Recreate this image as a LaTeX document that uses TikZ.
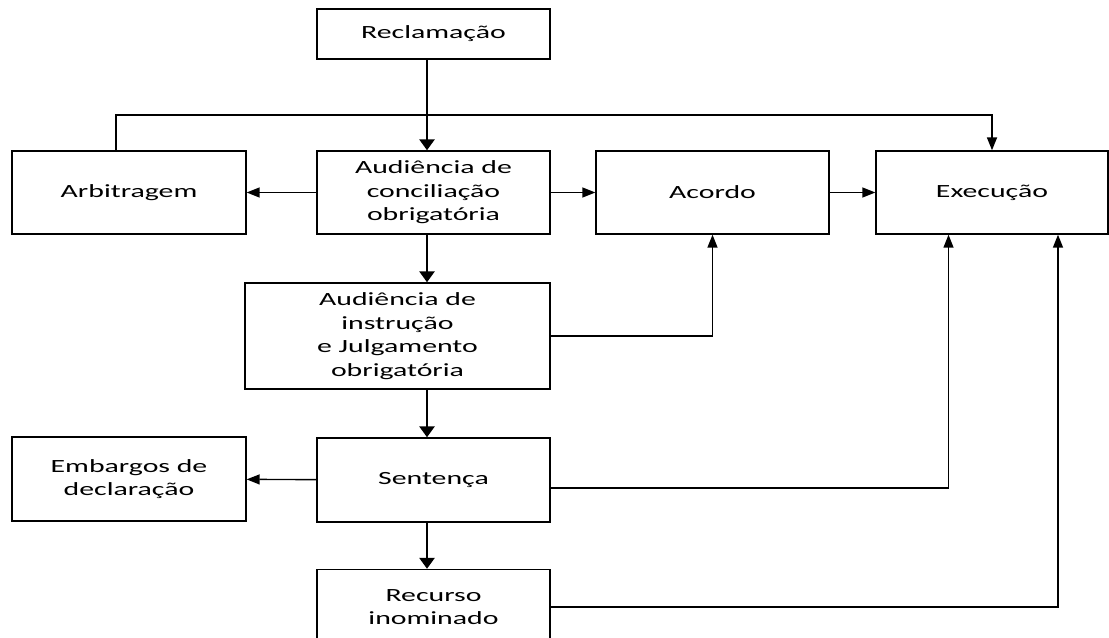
\documentclass[tikz,border=0pt]{standalone}
\usepackage{fontspec}
\setmainfont[FakeStretch=1.6]{Carlito}
\usetikzlibrary{arrows.meta,positioning}

\begin{document}
\begin{tikzpicture}[x=0.02cm,y=-0.02cm]
    \tikzset{
      box/.style={draw,line width=0.8pt,align=center,inner sep=0pt,
        font=\fontsize{10.6}{13.4}\selectfont},
      thin/.style={-{Triangle[length=0.26cm,width=0.2cm]},line width=0.8pt},
      heavy/.style={-{Triangle[length=0.22cm,width=0.3cm]},line width=1.7pt}
    }
    \useasboundingbox (0,0) rectangle (1109,638);
    % boxes
    \node[box,minimum width=4.66cm,minimum height=1.0cm] (recl) at (433.5,34) {Reclama\c{c}\~ao};
    \node[box,minimum width=4.68cm,minimum height=1.66cm] (arb) at (129,192.5) {Arbitragem};
    \node[box,minimum width=4.66cm,minimum height=1.66cm] (conc) at (433.5,192.5) {Audi\^encia de\\concilia\c{c}\~ao\\obrigat\'oria};
    \node[box,minimum width=4.66cm,minimum height=1.66cm] (acordo) at (712.5,192.5) {Acordo};
    \node[box,minimum width=4.64cm,minimum height=1.66cm] (exec) at (992,192.5) {Execu\c{c}\~ao};
    \node[box,minimum width=6.1cm,minimum height=2.12cm] (instr) at (397.5,336) {Audi\^encia de\\instru\c{c}\~ao\\e Julgamento\\obrigat\'oria};
    \node[box,minimum width=4.68cm,minimum height=1.68cm] (emb) at (129,479) {Embargos de\\declara\c{c}\~ao};
    \node[box,minimum width=4.66cm,minimum height=1.68cm] (sent) at (433.5,480) {Senten\c{c}a};
    \node[box,minimum width=4.66cm,minimum height=1.5cm] (rec) at (433.5,607) {Recurso\\inominado};
    % main chain
    \draw[heavy] ([xshift=-0.13cm]recl.south) -- ([xshift=-0.13cm]conc.north);
    \draw[heavy] ([xshift=-0.13cm]conc.south) -- ([xshift=-0.13cm]conc.south |- instr.north);
    \draw[heavy] ([xshift=-0.13cm]sent.north |- instr.south) -- ([xshift=-0.13cm]sent.north);
    \draw[heavy] ([xshift=-0.13cm]sent.south) -- ([xshift=-0.13cm]rec.north);
    % side branches
    \draw[thin] (conc) -- (arb);
    \draw[thin] (conc) -- (acordo);
    \draw[thin] (acordo) -- (exec);
    \draw[thin] (sent) -- (emb);
    \draw[thin,line width=1pt] ([xshift=-0.26cm]arb.north) -- ++(0,-35) -| (exec.north);
    \draw[thin] (instr.east) -| (acordo.south);
    \draw[thin] ([yshift=-0.16cm]sent.east) -| ([xshift=-0.87cm]exec.south);
    \draw[thin] (rec.east) -| ([xshift=1.32cm]exec.south);
\end{tikzpicture}
\end{document}
